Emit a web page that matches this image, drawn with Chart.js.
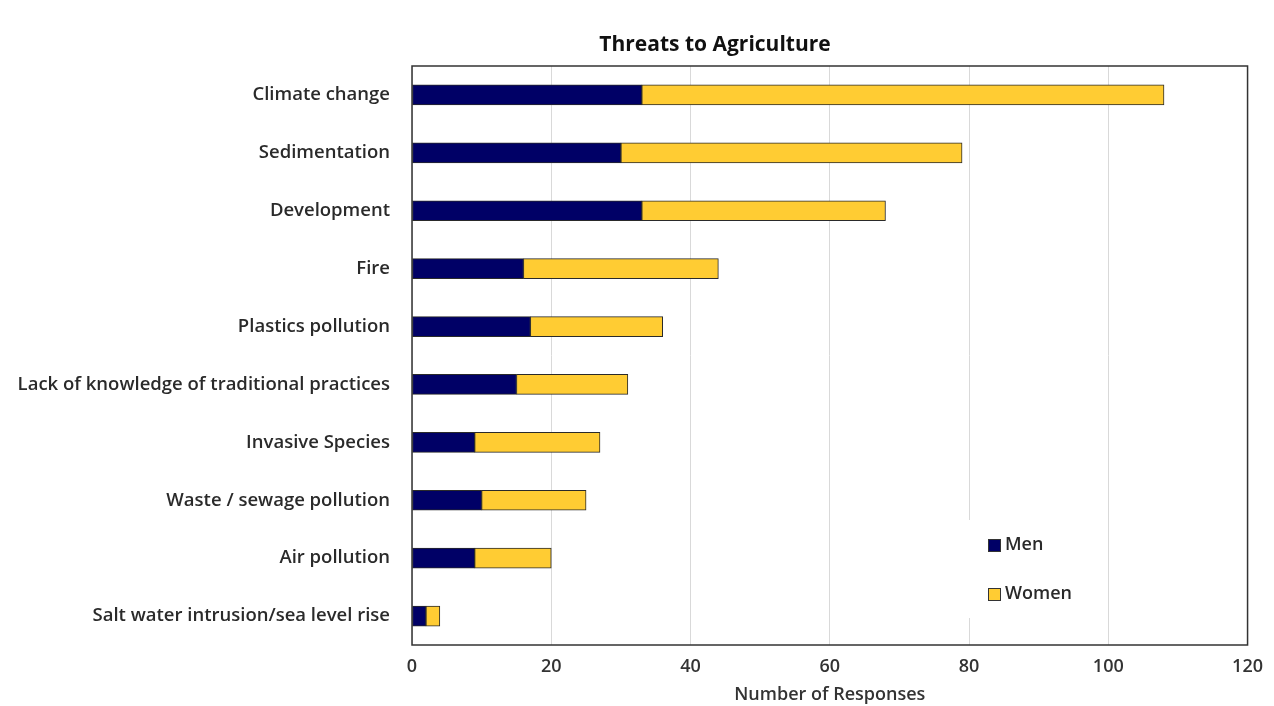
<!DOCTYPE html>
<html>
<head>
<meta charset="utf-8">
<script src="https://cdn.jsdelivr.net/npm/chart.js@4.4.1/dist/chart.umd.min.js"></script>
<style>
  html, body { margin: 0; padding: 0; background: #fff; }
  #wrap { width: 1274px; height: 706px; }
</style>
</head>
<body>
<div id="wrap"><canvas id="threatChart" width="1274" height="706"></canvas></div>
<script>
// 資料
const categories = [
  'Climate change',
  'Sedimentation',
  'Development',
  'Fire',
  'Plastics pollution',
  'Lack of knowledge of traditional practices',
  'Invasive Species',
  'Waste / sewage pollution',
  'Air pollution',
  'Salt water intrusion/sea level rise'
];
const menValues = [33, 30, 33, 16, 17, 15, 9, 10, 9, 2];
const womenValues = [75, 49, 35, 28, 19, 16, 18, 15, 11, 2];
const xTicks = [0, 20, 40, 60, 80, 100, 120];

const FONT = '"Open Sans", sans-serif';

// 繪圖區外框 + 標題 + 圖例
const framePlugin = {
  id: 'frame',
  afterDraw(chart) {
    const { ctx, chartArea: a } = chart;
    ctx.save();
    // legend box (covers gridlines)
    ctx.fillStyle = '#fff';
    ctx.fillRect(966, 520, 136, 98);
    chart.data.datasets.forEach((ds, i) => {
      const y = 545 + i * 49;
      ctx.fillStyle = ds.backgroundColor;
      ctx.fillRect(988, y - 6, 13, 13);
      ctx.strokeStyle = '#333';
      ctx.lineWidth = 1;
      ctx.strokeRect(988.5, y - 5.5, 12, 12);
      ctx.fillStyle = '#2a2a2a';
      ctx.font = '600 18px ' + FONT;
      ctx.textBaseline = 'middle';
      ctx.textAlign = 'left';
      ctx.fillText(ds.label, 1005, y);
    });
    // frame
    ctx.strokeStyle = '#333';
    ctx.lineWidth = 1.5;
    ctx.strokeRect(a.left, a.top, a.right - a.left, a.bottom - a.top);
    // title
    ctx.fillStyle = '#111';
    ctx.font = 'bold 21px ' + FONT;
    ctx.textAlign = 'center';
    ctx.textBaseline = 'middle';
    ctx.fillText('Threats to Agriculture', 715, 45);
    ctx.restore();
  }
};

new Chart(document.getElementById('threatChart').getContext('2d'), {
  type: 'bar',
  data: {
    labels: categories,
    datasets: [
      {
        label: 'Men',
        data: menValues,
        backgroundColor: '#000066',
        borderColor: '#2a2a2a',
        borderWidth: 1,
        borderSkipped: false,
        barThickness: 20
      },
      {
        label: 'Women',
        data: womenValues,
        backgroundColor: '#FFCC33',
        borderColor: '#2a2a2a',
        borderWidth: 1,
        borderSkipped: false,
        barThickness: 20
      }
    ]
  },
  options: {
    indexAxis: 'y',
    responsive: false,
    animation: false,
    layout: { padding: { top: 66, right: 26, left: 0, bottom: 0 } },
    plugins: {
      legend: { display: false },
      title: { display: false },
      tooltip: { enabled: false }
    },
    scales: {
      x: {
        stacked: true,
        min: 0,
        max: 120,
        afterBuildTicks: (scale) => { scale.ticks = xTicks.map(v => ({ value: v })); },
        afterFit: (scale) => { scale.height = 61; },
        grid: { color: '#d9d9d9', lineWidth: 1, drawTicks: false },
        border: { display: false },
        ticks: { color: '#333', padding: 11, font: { size: 18, weight: '600', family: FONT } },
        title: {
          display: true,
          text: 'Number of Responses',
          color: '#333',
          padding: { top: 0, bottom: 0 },
          font: { size: 18, weight: '600', family: FONT }
        }
      },
      y: {
        stacked: true,
        afterFit: (scale) => { scale.width = 412; },
        grid: { display: false },
        border: { display: false },
        ticks: { color: '#2a2a2a', padding: 14, font: { size: 18.5, weight: '600', family: FONT } }
      }
    }
  },
  plugins: [framePlugin]
});
</script>
</body>
</html>
